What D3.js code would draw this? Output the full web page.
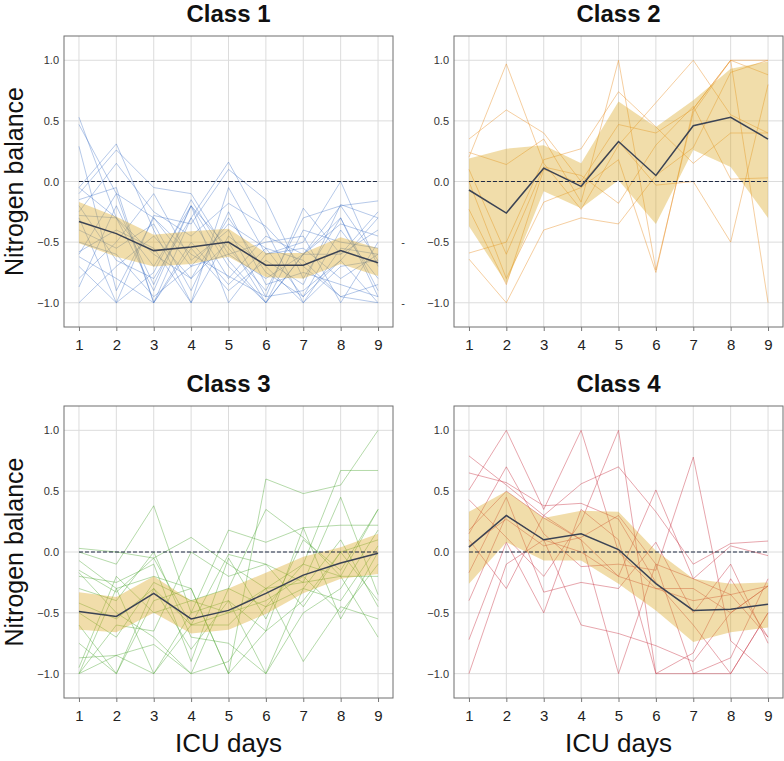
<!DOCTYPE html>
<html>
<head>
<meta charset="utf-8">
<script src="https://cdn.jsdelivr.net/npm/d3@7"></script>
<style>
  body { margin: 0; background: #fff; }
  svg { display: block; font-family: "Liberation Sans", Arial, Helvetica, sans-serif; }
  .grid line { stroke: #dcdcdc; stroke-width: 1; }
  .axis path { display: none; }
  .axis line { stroke: #777; }
  .axis text { fill: #333; }
</style>
</head>
<body>
<div id="chart"></div>
<script>
"use strict";

// ICU days on the x axis
var days = [1, 2, 3, 4, 5, 6, 7, 8, 9];
var yTicks = [-1.0, -0.5, 0.0, 0.5, 1.0];
var classNames = ["Class 1", "Class 2", "Class 3", "Class 4"];

// --- class 1 (blue) ---
var class1Lines = [
  [0.53, -0.30, -0.60, -0.80, -0.50, -1.00, -0.60, -0.30, -0.90],
  [0.47, -0.10, -1.00, -0.30, 0.16, -0.40, -1.00, -0.55, -0.60],
  [0.29, -0.90, -0.30, -0.60, -0.78, -0.95, -0.22, -0.60, -0.25],
  [-0.05, 0.31, -0.40, -1.00, -0.05, -0.60, -0.50, 0.00, -0.70],
  [-0.10, 0.26, -0.05, -0.10, -0.60, -0.80, -0.60, -0.20, -0.16],
  [-0.25, 0.15, -0.25, -0.45, -0.18, -0.37, -0.70, -0.95, -1.00],
  [-0.28, -0.30, -0.70, -0.20, -0.70, -1.00, -0.60, -0.60, -0.40],
  [-0.30, -1.00, -0.28, -0.35, 0.10, -0.15, -0.80, -0.30, -0.95],
  [-0.50, -0.60, -0.95, -0.70, -0.60, -0.50, -0.45, -1.00, -0.50],
  [-0.58, -0.40, -0.55, -1.00, -0.45, -0.70, -1.00, -0.70, -0.65],
  [-0.62, -0.80, -1.00, -0.55, -0.90, -0.65, -0.85, -0.19, -0.30],
  [-0.80, -0.50, -0.10, -0.65, -0.40, -0.95, -0.90, -0.65, -1.00],
  [-0.87, -0.20, -0.85, -0.20, -1.00, -0.60, -0.55, -0.80, -0.60],
  [-1.00, -0.70, -0.45, -0.80, -0.30, -0.75, -0.95, -0.40, -0.80],
  [-0.15, -0.05, -1.00, -0.50, -0.85, -0.55, -0.65, -0.95, -0.85],
  [-0.70, -1.00, -0.75, -0.15, -0.65, -1.00, -0.40, -0.50, -0.55],
  [-0.40, -0.55, -0.35, -0.90, -0.25, -0.85, -0.75, -0.85, -0.95],
  [-0.20, -0.65, -0.80, -0.30, -0.80, -0.45, -0.60, -0.35, -0.45],
  [-0.05, -0.30, -0.90, -0.20, -0.55, -0.90, -0.30, -0.20, -0.65],
  [-0.60, -0.10, -0.30, -0.70, -0.35, -0.55, -0.95, -0.65, -0.30]
];
var class1Mean  = [-0.33, -0.43, -0.57, -0.54, -0.50, -0.69, -0.69, -0.57, -0.67];
var class1Lower = [-0.51, -0.62, -0.70, -0.68, -0.62, -0.79, -0.80, -0.68, -0.78];
var class1Upper = [-0.17, -0.29, -0.44, -0.41, -0.39, -0.59, -0.59, -0.46, -0.55];

// --- class 2 (orange) ---
var class2Lines = [
  [0.35, 0.59, 0.40, 0.00, 0.47, 0.40, 0.60, 1.00, 1.00],
  [0.24, 0.14, 0.35, -0.17, 1.00, -0.73, 0.57, 1.00, 0.88],
  [0.20, 0.97, 0.15, -0.23, 0.30, 0.65, 1.00, 0.55, 0.40],
  [-0.59, -0.50, 0.18, 0.27, 0.74, 0.45, 0.15, 0.40, 0.40],
  [-0.64, -1.00, -0.40, -0.30, -0.35, 0.05, 0.28, 0.90, 1.00],
  [-0.23, -0.85, 0.10, -0.02, 0.33, -0.03, 0.00, -0.50, 0.80],
  [0.00, -0.80, -0.17, -0.05, 0.18, -0.75, 0.60, 1.00, -1.00],
  [0.10, -0.60, 0.12, 0.05, -0.18, 0.30, 0.62, 0.02, 0.03]
];
var class2Mean  = [-0.07, -0.26, 0.11, -0.04, 0.33, 0.05, 0.46, 0.53, 0.35];
var class2Lower = [-0.37, -0.84, -0.08, -0.22, 0.01, -0.35, 0.26, 0.12, -0.30];
var class2Upper = [0.19, 0.27, 0.30, 0.15, 0.66, 0.45, 0.67, 0.93, 0.99];

// --- class 3 (green) ---
var class3Lines = [
  [0.03, 0.00, -0.05, 0.12, -0.10, -0.30, -0.10, 0.67, 0.67],
  [0.00, -0.10, 0.38, -0.50, 0.18, 0.08, 0.20, 0.22, 0.22],
  [-0.07, -0.30, -0.20, -0.30, -1.00, 0.60, 0.48, 0.55, 1.00],
  [-0.15, -0.33, -0.05, -0.60, -0.02, -0.10, -0.25, 0.45, -0.35],
  [-0.17, -0.50, -0.70, -1.00, -0.30, 0.35, 0.12, -0.20, 0.35],
  [-0.42, -0.55, -0.30, -0.80, -0.40, -1.00, -0.50, -0.30, 0.18],
  [-0.75, -1.00, -0.40, -0.30, -1.00, -0.65, -0.40, 0.00, 0.10],
  [-0.87, -0.85, -1.00, -0.60, -0.50, -0.30, -0.90, -0.45, -0.55],
  [-1.00, -0.85, -0.76, -1.00, -0.90, -0.45, -0.10, -0.20, -0.70],
  [-1.00, -0.30, -1.00, -0.50, -0.40, -0.65, 0.20, -0.55, 0.00],
  [-0.60, -1.00, -0.30, -0.60, -0.60, -0.30, -0.25, -0.20, -0.20],
  [-0.30, -0.40, 0.00, -0.70, -0.75, -1.00, -0.30, 0.10, -0.45],
  [-0.95, -0.20, -0.50, -0.40, -0.30, -0.45, -0.30, -0.40, 0.05],
  [-0.50, -0.70, -0.25, -0.40, -0.50, -0.40, -0.20, -0.50, -0.10],
  [-1.00, -0.60, -0.65, 0.00, -0.20, -0.10, -0.45, 0.00, -0.40],
  [-0.20, -0.25, -0.10, -0.90, -0.05, -0.55, 0.10, -0.15, 0.35]
];
var class3Mean  = [-0.49, -0.53, -0.34, -0.55, -0.48, -0.34, -0.19, -0.09, -0.01];
var class3Lower = [-0.64, -0.66, -0.50, -0.67, -0.64, -0.51, -0.34, -0.22, -0.18];
var class3Upper = [-0.33, -0.37, -0.20, -0.40, -0.30, -0.17, -0.04, 0.04, 0.15];

// --- class 4 (red) ---
var class4Lines = [
  [0.79, 0.55, 0.30, 0.56, 0.70, 0.33, -0.10, 0.07, 0.09],
  [0.65, 0.57, 0.38, 0.40, 0.27, -0.25, -0.60, -1.00, -0.50],
  [0.51, 1.00, 0.35, 1.00, 0.00, -0.30, -0.40, -0.35, -0.28],
  [0.43, 0.12, -0.20, 0.25, 1.00, -1.00, -0.83, -0.22, -0.70],
  [0.18, 0.50, 0.28, 0.10, -0.20, 0.51, -0.22, 0.05, -0.03],
  [0.15, 0.70, 0.15, -0.12, -0.10, -0.15, 0.78, -0.73, -1.00],
  [0.05, 0.27, 0.05, 0.12, 0.30, -0.10, -1.00, -0.87, -0.22],
  [-0.17, 0.45, -0.33, -0.25, -0.30, 0.08, -0.50, -0.10, -0.75],
  [-0.40, 0.30, 0.10, -0.60, -0.67, -0.77, -0.90, -0.50, -0.28],
  [-0.72, 0.08, -0.50, 0.35, 0.10, -1.00, -1.00, -1.00, -0.50],
  [-1.00, -0.10, 0.10, 0.00, -0.20, -0.30, -0.30, -0.50, -0.28],
  [0.10, -0.30, 0.30, 0.10, -1.00, -0.10, -0.22, -0.35, -0.70]
];
var class4Mean  = [0.04, 0.30, 0.10, 0.15, 0.02, -0.26, -0.48, -0.47, -0.43];
var class4Lower = [-0.26, 0.08, -0.07, -0.07, -0.26, -0.48, -0.74, -0.66, -0.62];
var class4Upper = [0.33, 0.50, 0.28, 0.34, 0.33, 0.01, -0.22, -0.26, -0.25];

var classLines = [class1Lines, class2Lines, class3Lines, class4Lines];
var classMeans = [class1Mean, class2Mean, class3Mean, class4Mean];
var classLowers = [class1Lower, class2Lower, class3Lower, class4Lower];
var classUppers = [class1Upper, class2Upper, class3Upper, class4Upper];
var lineColors = ["#3f72c6", "#e8922c", "#4fa834", "#c93a4a"];
var lineOpacity = [0.38, 0.45, 0.42, 0.45];

var W = 784, H = 761;

var svg = d3.select("#chart").append("svg")
  .attr("width", W)
  .attr("height", H);

// panel boxes: left, top, width, height
var panels = [
  {x: 64, y: 36, w: 329, h: 291, ylab: true, xlab: false},
  {x: 454, y: 36, w: 329, h: 291, ylab: false, xlab: false},
  {x: 64, y: 406, w: 329, h: 292, ylab: true, xlab: true},
  {x: 454, y: 406, w: 329, h: 292, ylab: false, xlab: true}
];

function drawPanel(i) {
  var p = panels[i];
  var g = svg.append("g").attr("transform", "translate(" + p.x + "," + p.y + ")");

  var x = d3.scaleLinear().domain([0.6, 9.4]).range([0, p.w]);
  var y = d3.scaleLinear().domain([-1.2, 1.2]).range([p.h, 0]);

  // grid
  var grid = g.append("g").attr("class", "grid");
  grid.selectAll(".vg").data(days).enter().append("line")
    .attr("x1", function(d) { return x(d); })
    .attr("x2", function(d) { return x(d); })
    .attr("y1", 0).attr("y2", p.h);
  grid.selectAll(".hg").data(yTicks).enter().append("line")
    .attr("x1", 0).attr("x2", p.w)
    .attr("y1", function(d) { return y(d); })
    .attr("y2", function(d) { return y(d); });

  var line = d3.line()
    .x(function(d, j) { return x(days[j]); })
    .y(function(d) { return y(d); });

  // individual patients
  g.append("g").selectAll("path")
    .data(classLines[i])
    .enter().append("path")
    .attr("d", line)
    .attr("fill", "none")
    .attr("stroke", lineColors[i])
    .attr("stroke-opacity", lineOpacity[i])
    .attr("stroke-width", 1);

  // confidence band
  var area = d3.area()
    .x(function(d, j) { return x(days[j]); })
    .y0(function(d, j) { return y(classLowers[i][j]); })
    .y1(function(d, j) { return y(classUppers[i][j]); });
  g.append("path")
    .datum(classMeans[i])
    .attr("d", area)
    .attr("fill", "#daa520")
    .attr("fill-opacity", 0.38);

  // zero reference
  g.append("line")
    .attr("x1", x(days[0])).attr("x2", x(days[days.length - 1]))
    .attr("y1", y(0)).attr("y2", y(0))
    .attr("stroke", "#1f2a44")
    .attr("stroke-width", 1.1)
    .attr("stroke-dasharray", "4,2");

  // class mean
  g.append("path")
    .datum(classMeans[i])
    .attr("d", line)
    .attr("fill", "none")
    .attr("stroke", "#3b4354")
    .attr("stroke-width", 1.5);

  // frame
  g.append("rect")
    .attr("width", p.w).attr("height", p.h)
    .attr("fill", "none")
    .attr("stroke", "#6f6f6f")
    .attr("stroke-width", 1);

  // axes
  g.append("g")
    .attr("class", "axis")
    .attr("transform", "translate(0," + p.h + ")")
    .call(d3.axisBottom(x).tickValues(days).tickSize(4).tickPadding(8).tickFormat(d3.format("d")))
    .selectAll("text").style("font-size", "15px").style("fill", "#222");

  g.append("g")
    .attr("class", "axis")
    .call(d3.axisLeft(y).tickValues(yTicks).tickSize(0).tickPadding(5).tickFormat(d3.format(".1f")))
    .selectAll("text").style("font-size", "11px");

  // title
  g.append("text")
    .attr("x", p.w / 2)
    .attr("y", -14)
    .attr("text-anchor", "middle")
    .style("font-size", "24px")
    .style("font-weight", "bold")
    .style("fill", "#111")
    .text(classNames[i]);

  if (p.ylab) {
    g.append("text")
      .attr("transform", "translate(" + (23 - p.x) + "," + (p.h / 2) + ") rotate(-90)")
      .attr("text-anchor", "middle")
      .style("font-size", "25px")
      .style("fill", "#111")
      .text("Nitrogen balance");
  }
  if (p.xlab) {
    g.append("text")
      .attr("x", p.w / 2)
      .attr("y", p.h + 54)
      .attr("text-anchor", "middle")
      .style("font-size", "26px")
      .style("fill", "#111")
      .text("ICU days");
  }
}

for (var i = 0; i < panels.length; i++) {
  drawPanel(i);
}

// two stray dash marks left of the class 2 panel in the source picture
svg.selectAll(".stray")
  .data([-0.5, -1.0])
  .enter().append("text")
  .attr("x", 403)
  .attr("y", function(d) { return 36 + (1.2 - d) / 2.4 * 291 + 4; })
  .attr("text-anchor", "middle")
  .style("font-size", "11px")
  .style("fill", "#333")
  .text("-");
</script>
</body>
</html>
